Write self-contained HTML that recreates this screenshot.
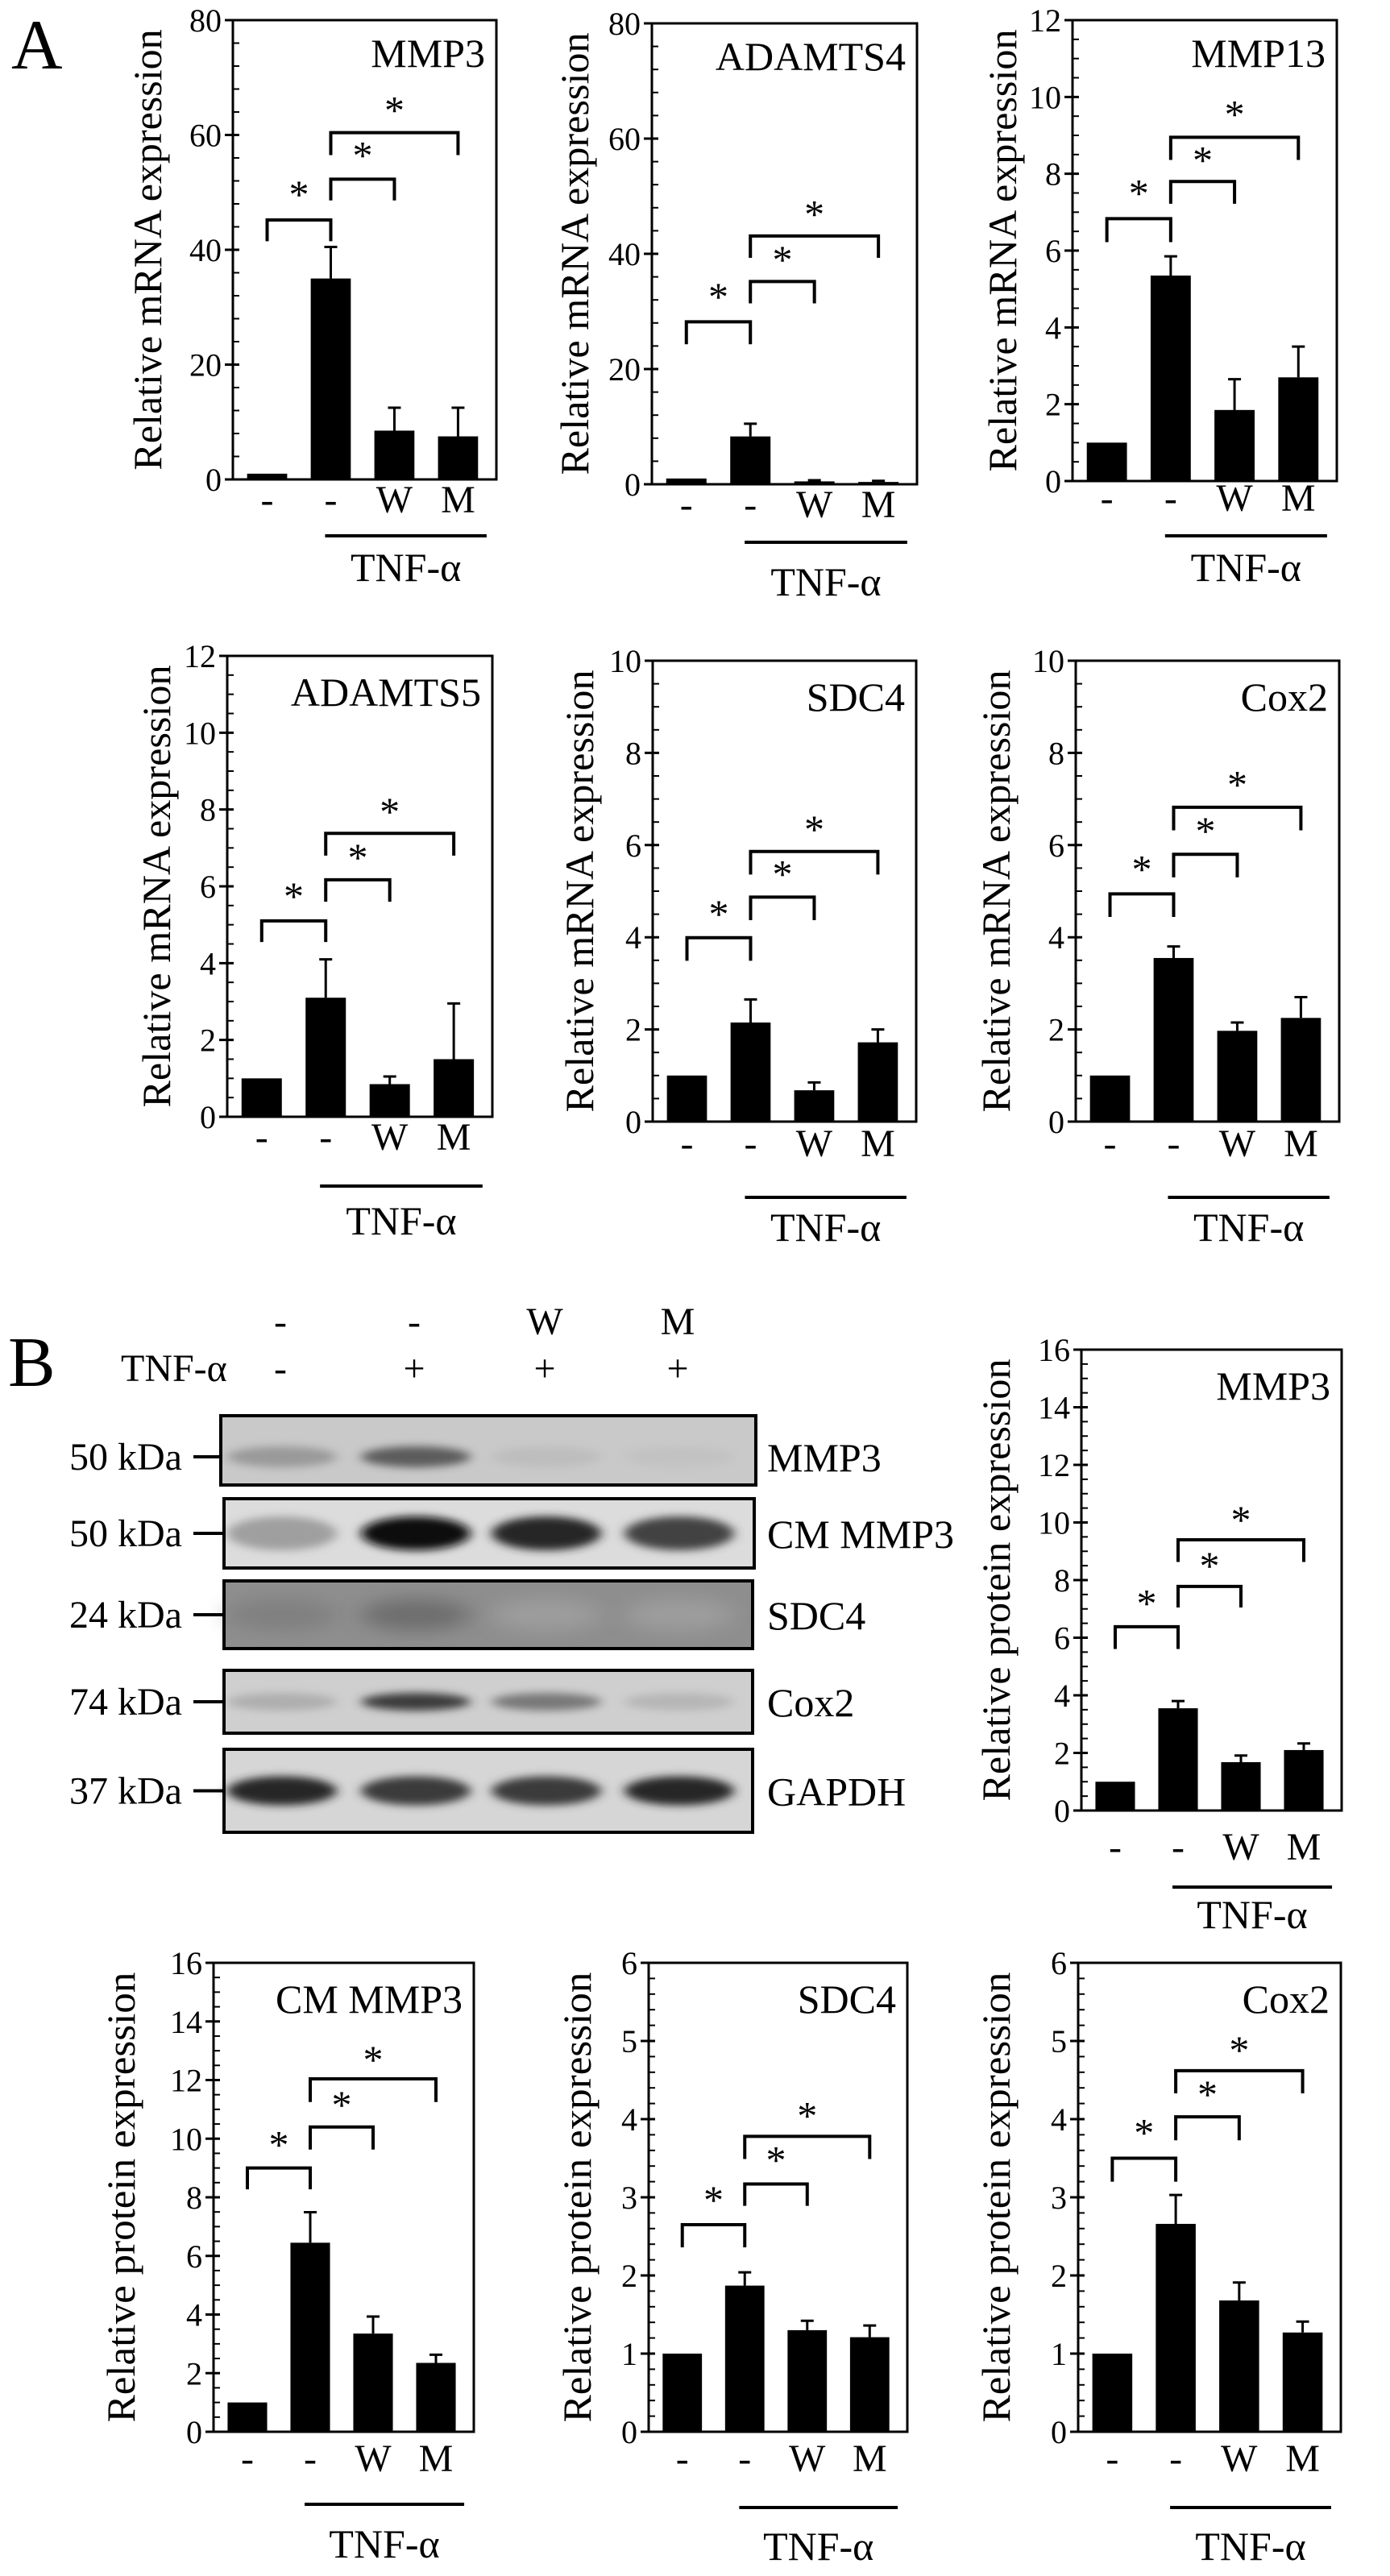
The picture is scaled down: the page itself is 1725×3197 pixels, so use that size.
<!DOCTYPE html>
<html><head><meta charset="utf-8"><title>Figure</title>
<style>
html,body{margin:0;padding:0;background:#fff;}
svg{display:block;font-family:"Liberation Serif","Times New Roman",serif;}
</style></head>
<body>
<svg id="fig" width="1725" height="3197" viewBox="0 0 1725 3197" xmlns="http://www.w3.org/2000/svg">
<defs>
<filter id="blur6" x="-20%" y="-100%" width="140%" height="300%"><feGaussianBlur stdDeviation="7 5"/></filter>
<filter id="blur12" x="-20%" y="-100%" width="140%" height="300%"><feGaussianBlur stdDeviation="14 10"/></filter>
</defs>
<text x="14" y="85" font-size="88" font-family="Liberation Serif, serif">A</text>
<text x="10" y="1720" font-size="88" font-family="Liberation Serif, serif">B</text>
<g id="blots"></g>
<g id="charts"></g>
</svg>
<script>
const NS="http://www.w3.org/2000/svg";
const categories=['-','-','W','M'];
const bracketPairs=[[0,1],[1,2],[1,3]];

// MMP3 mRNA
const mmp3Values=[1,35,8.5,7.5];
const mmp3Errors=[0,5.5,4,5];
const mmp3BracketTops=[45.2,52.3,60.4];
const mmp3BracketLegs=[41.5,48.6,56.5];
const mmp3Stars=[50.7,57.5,65.3];
const mmp3Ticks=[0,20,40,60,80];
// ADAMTS4 mRNA
const adamts4Values=[1,8.3,0.5,0.4];
const adamts4Errors=[0,2.2,0.2,0.2];
const adamts4BracketTops=[28.2,35.2,43.1];
const adamts4BracketLegs=[24.3,31.4,39.3];
const adamts4Stars=[33.6,40,47.9];
const adamts4Ticks=[0,20,40,60,80];
// MMP13 mRNA
const mmp13Values=[1,5.35,1.85,2.7];
const mmp13Errors=[0,0.5,0.8,0.8];
const mmp13BracketTops=[6.83,7.8,8.95];
const mmp13BracketLegs=[6.22,7.22,8.36];
const mmp13Stars=[7.65,8.51,9.7];
const mmp13Ticks=[0,2,4,6,8,10,12];
// ADAMTS5 mRNA
const adamts5Values=[1,3.1,0.85,1.5];
const adamts5Errors=[0,1.0,0.2,1.45];
const adamts5BracketTops=[5.1,6.17,7.38];
const adamts5BracketLegs=[4.55,5.6,6.8];
const adamts5Stars=[5.9,6.9,8.1];
const adamts5Ticks=[0,2,4,6,8,10,12];
// SDC4 mRNA
const sdc4Values=[1,2.15,0.68,1.72];
const sdc4Errors=[0,0.5,0.17,0.28];
const sdc4BracketTops=[3.99,4.87,5.86];
const sdc4BracketLegs=[3.49,4.37,5.36];
const sdc4Stars=[4.63,5.5,6.47];
const sdc4Ticks=[0,2,4,6,8,10];
// Cox2 mRNA
const cox2Values=[1,3.55,1.97,2.25];
const cox2Errors=[0,0.25,0.18,0.45];
const cox2BracketTops=[4.94,5.8,6.82];
const cox2BracketLegs=[4.44,5.3,6.32];
const cox2Stars=[5.6,6.43,7.44];
const cox2Ticks=[0,2,4,6,8,10];
// MMP3 protein
const pMmp3Values=[1,3.55,1.68,2.1];
const pMmp3Errors=[0,0.25,0.23,0.23];
const pMmp3BracketTops=[6.38,7.78,9.4];
const pMmp3BracketLegs=[5.61,7.05,8.63];
const pMmp3Stars=[7.4,8.7,10.3];
const pMmp3Ticks=[0,2,4,6,8,10,12,14,16];
// CM MMP3 protein
const pCmValues=[1,6.45,3.35,2.35];
const pCmErrors=[0,1.04,0.58,0.28];
const pCmBracketTops=[9.0,10.4,12.04];
const pCmBracketLegs=[8.27,9.63,11.25];
const pCmStars=[10.0,11.35,12.9];
const pCmTicks=[0,2,4,6,8,10,12,14,16];
// SDC4 protein
const pSdc4Values=[1,1.87,1.3,1.21];
const pSdc4Errors=[0,0.17,0.12,0.15];
const pSdc4BracketTops=[2.65,3.17,3.78];
const pSdc4BracketLegs=[2.36,2.89,3.49];
const pSdc4Stars=[3.04,3.55,4.12];
const pSdc4Ticks=[0,1,2,3,4,5,6];
// Cox2 protein
const pCox2Values=[1,2.66,1.68,1.27];
const pCox2Errors=[0,0.37,0.23,0.14];
const pCox2BracketTops=[3.5,4.03,4.62];
const pCox2BracketLegs=[3.2,3.73,4.33];
const pCox2Stars=[3.9,4.39,4.96];
const pCox2Ticks=[0,1,2,3,4,5,6];

// blot band intensities (0..1) per lane
const blotNames=['MMP3','CM MMP3','SDC4','Cox2','GAPDH'];
const blotKda=['50 kDa','50 kDa','24 kDa','74 kDa','37 kDa'];
const blotMmp3=[0.35,0.6,0.12,0.08];
const blotCm=[0.35,1.0,0.85,0.7];
const blotSdc4=[0.4,0.5,0.15,0.15];
const blotCox2=[0.25,0.75,0.5,0.2];
const blotGapdh=[0.85,0.75,0.75,0.85];

function el(tag,attrs,parent){const e=document.createElementNS(NS,tag);for(const k in attrs)e.setAttribute(k,attrs[k]);if(parent)parent.appendChild(e);return e;}

const charts=document.getElementById('charts');

function drawChart(c){
  const g=el('g',{},charts);
  
  
  const W=c.R-c.L,H=c.B-c.T;
  const y=v=>c.B-v/c.ymax*H;
  const xc=i=>c.L+W*(0.13+0.2415*i);
  const bw=W*0.152;
  for(let v=0;v<=c.ymax+1e-9;v+=c.minor){
    const t=el('line',{x1:c.L,x2:c.L+8,y1:y(v),y2:y(v),stroke:'#000','stroke-width':2},g);
    
    
  }
  c.ticks.forEach(v=>{
    const t=el('line',{x1:c.L-10,x2:c.L+8,y1:y(v),y2:y(v),stroke:'#000','stroke-width':3},g);
    
    
    const tl=el('text',{x:c.L-14,y:y(v)+14,'font-size':40,'text-anchor':'end'},g);
    tl.textContent=v;
    
    
  });
  c.values.forEach((v,i)=>{
    const b=el('rect',{x:xc(i)-bw/2,y:y(v),width:bw,height:c.B-y(v),fill:'#000'},g);
    
    
    const e=c.errors[i];
    if(e>0){
      const ln=el('path',{d:`M${xc(i)} ${y(v)} V${y(v+e)} M${xc(i)-8} ${y(v+e)} H${xc(i)+8}`,stroke:'#000','stroke-width':3,fill:'none'},g);
      
      
    }
  });
  const fr=el('rect',{x:c.L,y:c.T,width:W,height:H,fill:'none',stroke:'#000','stroke-width':3},g);
  
  
  bracketPairs.forEach((p,k)=>{
    const x1=xc(p[0]),x2=xc(p[1]);
    const br=el('path',{d:`M${x1} ${y(c.legs[k])} V${y(c.tops[k])} H${x2} V${y(c.legs[k])}`,stroke:'#000','stroke-width':4,fill:'none'},g);
    
    
    const st=el('text',{x:(x1+x2)/2,y:y(c.stars[k])+24,'font-size':50,'text-anchor':'middle'},g);
    st.textContent='*';
    
    
  });
  const tt=el('text',{x:c.R-14,y:c.T+c.titleOff,'font-size':50,'text-anchor':'end'},g);
  tt.textContent=c.title;
  
  
  const cy=(c.T+c.B)/2;
  const yt=el('text',{x:0,y:0,'font-size':50,'text-anchor':'middle',textLength:H*0.96,lengthAdjust:'spacingAndGlyphs',transform:`translate(${c.yx},${cy}) rotate(-90)`},g);
  yt.textContent=c.ytitle;
  
  
  categories.forEach((cat,i)=>{
    const t=el('text',{x:xc(i),y:c.labelY+16,'font-size':48,'text-anchor':'middle'},g);
    t.textContent=cat;
    
    
  });
  const x1=c.L+W*0.35,x2=c.L+W*0.963;
  const tl=el('line',{x1:x1,x2:x2,y1:c.lineY,y2:c.lineY,stroke:'#000','stroke-width':4},g);
  
  
  const tn=el('text',{x:(x1+x2)/2,y:c.tnfY+17,'font-size':50,'text-anchor':'middle'},g);
  tn.textContent='TNF-α';
  
  
}

const mr='Relative mRNA expression', pr='Relative protein expression';
drawChart({id:'mmp3-mrna',L:289,R:616,T:25,B:595,ymax:80,minor:4,ticks:mmp3Ticks,values:mmp3Values,errors:mmp3Errors,tops:mmp3BracketTops,legs:mmp3BracketLegs,stars:mmp3Stars,title:'MMP3',ytitle:mr,yx:200,titleOff:58,labelY:620,lineY:665,tnfY:704});
drawChart({id:'adamts4-mrna',L:809,R:1138,T:29,B:601,ymax:80,minor:4,ticks:adamts4Ticks,values:adamts4Values,errors:adamts4Errors,tops:adamts4BracketTops,legs:adamts4BracketLegs,stars:adamts4Stars,title:'ADAMTS4',ytitle:mr,yx:730,titleOff:58,labelY:626,lineY:673,tnfY:722});
drawChart({id:'mmp13-mrna',L:1331,R:1659,T:25,B:597,ymax:12,minor:0.5,ticks:mmp13Ticks,values:mmp13Values,errors:mmp13Errors,tops:mmp13BracketTops,legs:mmp13BracketLegs,stars:mmp13Stars,title:'MMP13',ytitle:mr,yx:1261,titleOff:58,labelY:618,lineY:665,tnfY:704});
drawChart({id:'adamts5-mrna',L:282,R:611,T:814,B:1386,ymax:12,minor:0.5,ticks:adamts5Ticks,values:adamts5Values,errors:adamts5Errors,tops:adamts5BracketTops,legs:adamts5BracketLegs,stars:adamts5Stars,title:'ADAMTS5',ytitle:mr,yx:211,titleOff:62,labelY:1411,lineY:1472,tnfY:1515});
drawChart({id:'sdc4-mrna',L:810,R:1137,T:820,B:1392,ymax:10,minor:0.5,ticks:sdc4Ticks,values:sdc4Values,errors:sdc4Errors,tops:sdc4BracketTops,legs:sdc4BracketLegs,stars:sdc4Stars,title:'SDC4',ytitle:mr,yx:736,titleOff:62,labelY:1419,lineY:1486,tnfY:1523});
drawChart({id:'cox2-mrna',L:1335,R:1662,T:820,B:1392,ymax:10,minor:0.5,ticks:cox2Ticks,values:cox2Values,errors:cox2Errors,tops:cox2BracketTops,legs:cox2BracketLegs,stars:cox2Stars,title:'Cox2',ytitle:mr,yx:1253,titleOff:62,labelY:1419,lineY:1486,tnfY:1523});
drawChart({id:'mmp3-protein',L:1342,R:1665,T:1675,B:2247,ymax:16,minor:0.5,ticks:pMmp3Ticks,values:pMmp3Values,errors:pMmp3Errors,tops:pMmp3BracketTops,legs:pMmp3BracketLegs,stars:pMmp3Stars,title:'MMP3',ytitle:pr,yx:1253,titleOff:62,labelY:2292,lineY:2342,tnfY:2376});
drawChart({id:'cm-mmp3-protein',L:265,R:588,T:2436,B:3018,ymax:16,minor:0.5,ticks:pCmTicks,values:pCmValues,errors:pCmErrors,tops:pCmBracketTops,legs:pCmBracketLegs,stars:pCmStars,title:'CM MMP3',ytitle:pr,yx:167,titleOff:62,labelY:3051,lineY:3108,tnfY:3157});
drawChart({id:'sdc4-protein',L:805,R:1126,T:2436,B:3018,ymax:6,minor:0.2,ticks:pSdc4Ticks,values:pSdc4Values,errors:pSdc4Errors,tops:pSdc4BracketTops,legs:pSdc4BracketLegs,stars:pSdc4Stars,title:'SDC4',ytitle:pr,yx:733,titleOff:62,labelY:3051,lineY:3112,tnfY:3160});
drawChart({id:'cox2-protein',L:1338,R:1664,T:2436,B:3018,ymax:6,minor:0.2,ticks:pCox2Ticks,values:pCox2Values,errors:pCox2Errors,tops:pCox2BracketTops,legs:pCox2BracketLegs,stars:pCox2Stars,title:'Cox2',ytitle:pr,yx:1253,titleOff:62,labelY:3051,lineY:3112,tnfY:3160});

// ---- western blot ----
const blots=document.getElementById('blots');
const laneX=[350,516,678,843];
const laneHeader1=['-','-','W','M'];
const laneHeader2=['-','+','+','+'];
laneHeader1.forEach((t,i)=>{
  const e=el('text',{x:laneX[i]-2,y:1656,'font-size':48,'text-anchor':'middle'},blots);
  e.textContent=t;
  
  
});
laneHeader2.forEach((t,i)=>{
  const e=el('text',{x:laneX[i]-2,y:1714,'font-size':48,'text-anchor':'middle'},blots);
  e.textContent=t;
  
  
});
const tnfHead=el('text',{x:150,y:1714,'font-size':48},blots);
tnfHead.textContent='TNF-α';



const blotBoxes=[[274,1757,938,1843],[278,1860,936,1946],[278,1962,934,2046],[278,2073,934,2151],[278,2171,934,2274]];
const blotBg=['#c9c9c9','#dcdcdc','#8e8e8e','#cfcfcf','#d6d6d6'];
const blotData=[blotMmp3,blotCm,blotSdc4,blotCox2,blotGapdh];
const bandH=[26,42,40,22,36];
blotBoxes.forEach((bx,k)=>{
  const g=el('g',{},blots);
  
  
  const [x0,y0,x1,y1]=bx;
  el('rect',{x:x0,y:y0,width:x1-x0,height:y1-y0,fill:blotBg[k]},g);
  const cy=(y0+y1)/2+(k==0?8:0);
  blotData[k].forEach((v,i)=>{
    const dark=Math.round(200-190*v);
    el('ellipse',{cx:laneX[i],cy:cy,rx:68,ry:bandH[k]/2,fill:`rgb(${dark},${dark},${dark})`,opacity:Math.min(1,0.35+v),filter:k==2?'url(#blur12)':'url(#blur6)'},g);
  });
  el('rect',{x:x0,y:y0,width:x1-x0,height:y1-y0,fill:'none',stroke:'#000','stroke-width':4},g);
  const kd=el('text',{x:86,y:cy+16,'font-size':48},g);
  kd.textContent=blotKda[k];
  
  
  el('line',{x1:240,x2:x0,y1:cy,y2:cy,stroke:'#000','stroke-width':4},g);
  const nm=el('text',{x:952,y:cy+18,'font-size':50},g);
  nm.textContent=blotNames[k];
  
  
});
</script>
</body></html>
